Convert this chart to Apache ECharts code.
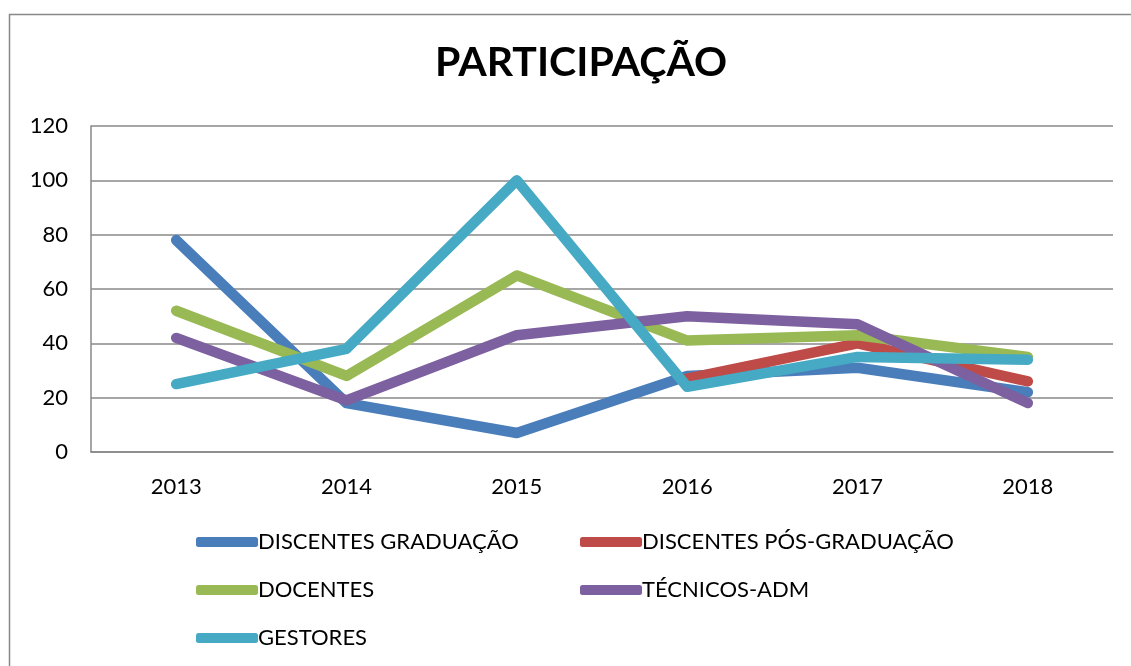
<!DOCTYPE html>
<html>
<head>
<meta charset="utf-8">
<script src="https://cdn.jsdelivr.net/npm/echarts@6/dist/echarts.min.js"></script>
<style>
  html, body { margin: 0; padding: 0; background: #fff; }
  #chart { width: 1131px; height: 666px; }
</style>
</head>
<body>
<div id="chart"></div>
<script>
// dados
const years = ['2013', '2014', '2015', '2016', '2017', '2018'];
const discentesGrad = [78, 18, 7, 28, 31, 22];
const discentesPos = [null, null, null, 27, 40, 26];
const docentes = [52, 28, 65, 41, 43, 35];
const tecnicos = [42, 19, 43, 50, 47, 18];
const gestores = [25, 38, 100, 24, 35, 34];

const FONT = 'Lato, "Open Sans", sans-serif';
const COLORS = ['#4a7ebb', '#be4b48', '#98b954', '#7d60a0', '#46aac5'];

function mkSeries(name, data, color) {
  return {
    name,
    type: 'line',
    data,
    symbol: 'none',
    connectNulls: false,
    lineStyle: { width: 10.5, color, cap: 'round', join: 'round' },
    itemStyle: { color },
    emphasis: { disabled: true },
  };
}

const legendBase = {
  orient: 'vertical',
  top: 531,
  padding: 0,
  itemWidth: 62,
  itemHeight: 10,
  itemGap: 26,
  icon: 'roundRect',
  textStyle: { fontFamily: FONT, fontSize: 22, lineHeight: 22, color: '#000', padding: [0, 0, 0, -5] },
};

const chart = echarts.init(document.getElementById('chart'));
chart.setOption({
  animation: false,
  color: COLORS,
  title: {
    text: 'PARTICIPAÇÃO',
    left: 430,
    top: 37,
    textStyle: { fontFamily: FONT, fontSize: 41, fontWeight: 'bold', color: '#000' },
  },
  graphic: [
    {
      type: 'rect',
      shape: { x: 9.5, y: 14.5, width: 1140, height: 700 },
      style: { fill: 'none', stroke: '#888', lineWidth: 1.5 },
      silent: true,
    },
  ],
  legend: [
    Object.assign({}, legendBase, { left: 196, data: ['DISCENTES GRADUAÇÃO', 'DOCENTES', 'GESTORES'] }),
    Object.assign({}, legendBase, { left: 580, data: ['DISCENTES PÓS-GRADUAÇÃO', 'TÉCNICOS-ADM'] }),
  ],
  grid: { left: 91, right: 18, top: 126, bottom: 214, containLabel: false },
  xAxis: {
    type: 'category',
    data: years,
    boundaryGap: true,
    axisLine: { lineStyle: { color: '#888', width: 1.5 } },
    axisTick: { show: false },
    axisLabel: { fontFamily: FONT, fontSize: 22, color: '#000', margin: 24 },
  },
  yAxis: {
    type: 'value',
    min: 0,
    max: 120,
    interval: 20,
    axisLine: { show: true, lineStyle: { color: '#888', width: 1.5 } },
    axisTick: { show: false },
    splitLine: { lineStyle: { color: '#888', width: 1.5 } },
    axisLabel: { fontFamily: FONT, fontSize: 22, color: '#000', margin: 23 },
  },
  series: [
    mkSeries('DISCENTES GRADUAÇÃO', discentesGrad, COLORS[0]),
    mkSeries('DISCENTES PÓS-GRADUAÇÃO', discentesPos, COLORS[1]),
    mkSeries('DOCENTES', docentes, COLORS[2]),
    mkSeries('TÉCNICOS-ADM', tecnicos, COLORS[3]),
    mkSeries('GESTORES', gestores, COLORS[4]),
  ],
});
</script>
</body>
</html>
